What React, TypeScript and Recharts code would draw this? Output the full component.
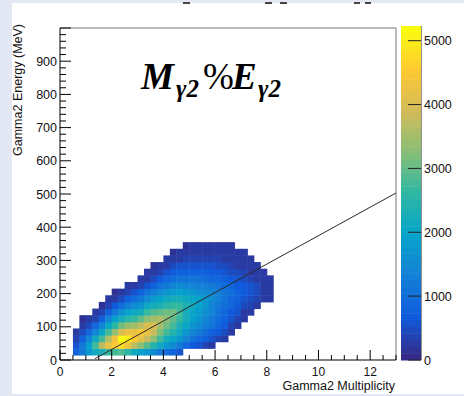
import React from 'react';
import { ScatterChart, Scatter, XAxis, YAxis, ReferenceLine } from 'recharts';

// bin centres of the 2D histogram (bins 0.25 wide in multiplicity, 20 MeV in energy)
const multBins = [
  0.625, 0.875, 1.125, 1.375, 1.625, 1.875, 2.125, 2.375, 2.625, 2.875, 3.125,
  3.375, 3.625, 3.875, 4.125, 4.375, 4.625, 4.875, 5.125, 5.375, 5.625, 5.875,
  6.125, 6.375, 6.625, 6.875, 7.125, 7.375, 7.625, 7.875, 8.125,
];
const energyBins = [25, 45, 65, 85, 105, 125, 145, 165, 185, 205, 225, 245, 265, 285, 305, 325, 345];

// counts per bin, in hundreds; one row per energy bin (bottom row first)
const countsHundreds = [
  [8, 12, 17, 21, 24, 27, 28, 29, 26, 21, 19, 17, 15, 12, 10, 8, 6, 0, 0, 0, 0, 0, 0, 0, 0, 0, 0, 0, 0, 0, 0],
  [6, 12, 19, 28, 37, 42, 46, 48, 43, 37, 33, 29, 25, 21, 17, 15, 12, 9, 7, 6, 4, 3, 0, 0, 0, 0, 0, 0, 0, 0, 0],
  [4, 8, 14, 21, 28, 36, 43, 52, 50, 45, 41, 38, 33, 28, 23, 20, 17, 14, 11, 9, 8, 6, 4, 3, 0, 0, 0, 0, 0, 0, 0],
  [3, 5, 9, 14, 20, 28, 34, 40, 42, 42, 44, 42, 38, 32, 28, 25, 21, 17, 14, 12, 10, 8, 7, 5, 3, 0, 0, 0, 0, 0, 0],
  [0, 3, 5, 9, 14, 20, 26, 31, 34, 35, 37, 40, 40, 35, 31, 28, 24, 20, 17, 15, 13, 11, 9, 7, 4, 3, 0, 0, 0, 0, 0],
  [0, 2, 3, 4, 8, 14, 19, 23, 26, 27, 30, 33, 35, 36, 33, 30, 27, 22, 19, 17, 14, 12, 10, 8, 6, 4, 3, 0, 0, 0, 0],
  [0, 0, 0, 3, 4, 8, 12, 16, 19, 21, 23, 27, 29, 30, 31, 31, 28, 23, 20, 18, 16, 14, 11, 9, 7, 6, 3, 3, 0, 0, 0],
  [0, 0, 0, 0, 2, 4, 7, 10, 13, 15, 17, 21, 23, 24, 26, 27, 27, 24, 21, 19, 17, 14, 12, 10, 9, 7, 5, 4, 3, 0, 0],
  [0, 0, 0, 0, 0, 3, 3, 5, 8, 10, 12, 15, 18, 19, 21, 23, 22, 21, 20, 19, 17, 15, 13, 11, 9, 8, 6, 5, 4, 3, 3],
  [0, 0, 0, 0, 0, 0, 2, 3, 4, 6, 8, 11, 13, 15, 17, 18, 19, 18, 17, 16, 15, 14, 13, 11, 10, 8, 7, 6, 5, 3, 3],
  [0, 0, 0, 0, 0, 0, 0, 0, 3, 3, 4, 6, 8, 11, 12, 14, 15, 14, 14, 13, 13, 12, 11, 10, 9, 7, 7, 6, 5, 3, 3],
  [0, 0, 0, 0, 0, 0, 0, 0, 0, 0, 3, 3, 5, 7, 9, 10, 11, 11, 11, 11, 10, 9, 9, 8, 7, 6, 5, 4, 3, 3, 3],
  [0, 0, 0, 0, 0, 0, 0, 0, 0, 0, 0, 3, 3, 4, 6, 7, 8, 8, 8, 8, 8, 7, 7, 6, 5, 5, 4, 3, 3, 3, 0],
  [0, 0, 0, 0, 0, 0, 0, 0, 0, 0, 0, 0, 2, 3, 3, 5, 6, 6, 6, 6, 6, 6, 5, 5, 4, 3, 3, 3, 3, 0, 0],
  [0, 0, 0, 0, 0, 0, 0, 0, 0, 0, 0, 0, 0, 0, 3, 3, 3, 4, 4, 4, 4, 4, 4, 3, 3, 3, 3, 3, 0, 0, 0],
  [0, 0, 0, 0, 0, 0, 0, 0, 0, 0, 0, 0, 0, 0, 0, 2, 3, 3, 3, 3, 3, 3, 3, 3, 3, 3, 3, 0, 0, 0, 0],
  [0, 0, 0, 0, 0, 0, 0, 0, 0, 0, 0, 0, 0, 0, 0, 0, 0, 2, 3, 3, 3, 3, 3, 3, 3, 0, 0, 0, 0, 0, 0],
];

const xTicks = [0, 0.5, 1, 1.5, 2, 2.5, 3, 3.5, 4, 4.5, 5, 5.5, 6, 6.5, 7, 7.5, 8, 8.5, 9, 9.5, 10, 10.5, 11, 11.5, 12, 12.5, 13];
const xLabels = [0, 2, 4, 6, 8, 10, 12];
const yLabels = [0, 100, 200, 300, 400, 500, 600, 700, 800, 900];
const yTicks = Array.from({ length: 51 }, (_, i) => i * 20);
const zTicks = [0, 1000, 2000, 3000, 4000, 5000];
const zMax = 5230;

// straight line drawn over the histogram
const fitX = [1.35, 13];
const fitY = [4, 503];

const FONT = "'Liberation Sans', Arial, Helvetica, sans-serif";
const PLOT_W = 336;
const PLOT_H = 332;
const CELL_W = (0.25 * PLOT_W) / 13;
const CELL_H = (20 * PLOT_H) / 1000;
const N_LEVELS = 50;

// ROOT kBird palette
const birdStops = [0, 0.125, 0.25, 0.375, 0.5, 0.625, 0.75, 0.875, 1];
const birdR = [0.2082, 0.0592, 0.078, 0.0232, 0.1802, 0.5301, 0.8186, 0.9956, 0.9764];
const birdG = [0.1664, 0.3599, 0.5041, 0.6419, 0.7178, 0.7492, 0.7328, 0.7862, 0.9832];
const birdB = [0.5293, 0.8684, 0.8385, 0.7914, 0.6425, 0.4662, 0.3499, 0.1968, 0.0539];

function bird(t: number) {
  let i = 0;
  while (i < birdStops.length - 2 && t > birdStops[i + 1]) i++;
  const f = (t - birdStops[i]) / (birdStops[i + 1] - birdStops[i]);
  const c = (a: number[]) => Math.round(255 * (a[i] + (a[i + 1] - a[i]) * f));
  return `rgb(${c(birdR)},${c(birdG)},${c(birdB)})`;
}

const levelColor = (level: number) => bird(level / (N_LEVELS - 1));
const zColor = (z: number) => levelColor(Math.min(N_LEVELS - 1, Math.floor((z / zMax) * N_LEVELS)));

const cells = energyBins.flatMap((e, r) =>
  multBins.map((m, c) => ({ m, e, z: countsHundreds[r][c] * 100 })).filter(d => d.z > 0)
);
const fitPoints = fitX.map((m, i) => ({ m, e: fitY[i] }));
const levels = Array.from({ length: N_LEVELS }, (_, i) => ({ x: 0.5, z: ((i + 0.5) * zMax) / N_LEVELS, level: i }));

const BinCell = (props: any) => {
  const { cx, cy, payload } = props;
  return (
    <rect x={cx - CELL_W / 2} y={cy - CELL_H / 2} width={CELL_W + 0.5} height={CELL_H + 0.5} fill={zColor(payload.z)} />
  );
};

const LevelRect = (props: any) => {
  const { cx, cy, payload } = props;
  const h = 334 / N_LEVELS;
  return <rect x={cx - 10} y={cy - h / 2} width={20} height={h + 0.5} fill={levelColor(payload.level)} />;
};

const NoDot = () => <g />;

const XTick = (props: any) => {
  const { x, y, payload } = props;
  const major = xLabels.includes(payload.value);
  return (
    <g>
      <line x1={x} x2={x} y1={y} y2={y - (major ? 10 : 5)} stroke="#000" />
      {major && (
        <text x={x} y={y + 15.5} textAnchor="middle" fontSize={12} fontFamily={FONT} fill="#111">
          {payload.value}
        </text>
      )}
    </g>
  );
};

const YTick = (props: any) => {
  const { x, y, payload } = props;
  const major = payload.value % 100 === 0;
  return (
    <g>
      <line x1={x} x2={x + (major ? 11 : 6)} y1={y} y2={y} stroke="#000" />
      {yLabels.includes(payload.value) && (
        <text x={x - 3} y={y + 4.5} textAnchor="end" fontSize={12.5} fontFamily={FONT} fill="#111">
          {payload.value}
        </text>
      )}
    </g>
  );
};

const ZTick = (props: any) => {
  const { x, y, payload } = props;
  return (
    <g>
      <line x1={x - 13} x2={x} y1={y} y2={y} stroke="#222" />
      <text x={x + 3} y={y + 4.5} textAnchor="start" fontSize={12.5} fontFamily={FONT} fill="#111">
        {payload.value}
      </text>
    </g>
  );
};

export default function App() {
  return (
    <div style={{ position: 'absolute', left: 0, top: 0, width: 464, height: 396, background: '#e4e8f4' }}>
      <div style={{ position: 'absolute', left: 12, top: 3, width: 452, height: 391, background: '#fff' }} />

      <div style={{ position: 'absolute', left: 0, top: 0 }}>
        <ScatterChart width={464} height={396} margin={{ top: 28, right: 68, bottom: 6, left: 12 }}>
          <XAxis
            type="number"
            dataKey="m"
            domain={[0, 13]}
            ticks={xTicks}
            interval={0}
            height={30}
            tickSize={0}
            tickMargin={0}
            tick={XTick}
            axisLine={{ stroke: '#000' }}
            tickLine={false}
          />
          <YAxis
            type="number"
            dataKey="e"
            domain={[0, 1000]}
            ticks={yTicks}
            interval={0}
            width={48}
            tickSize={0}
            tickMargin={0}
            tick={YTick}
            axisLine={{ stroke: '#000' }}
            tickLine={false}
          />
          <ReferenceLine y={1000} stroke="#777" />
          <ReferenceLine x={13} stroke="#777" />
          <Scatter data={cells} shape={BinCell} isAnimationActive={false} />
          <Scatter
            data={fitPoints}
            line={{ stroke: '#2a2a2a', strokeWidth: 1 }}
            lineType="joint"
            shape={NoDot}
            isAnimationActive={false}
          />
        </ScatterChart>
      </div>

      <div style={{ position: 'absolute', left: 401, top: 0 }}>
        <ScatterChart width={63} height={396} margin={{ top: 26, right: 0, bottom: 36, left: 0 }}>
          <XAxis type="number" dataKey="x" domain={[0, 1]} hide />
          <YAxis
            type="number"
            dataKey="z"
            orientation="right"
            domain={[0, zMax]}
            ticks={zTicks}
            interval={0}
            width={43}
            tickSize={0}
            tickMargin={0}
            tick={ZTick}
            axisLine={{ stroke: '#222' }}
            tickLine={false}
          />
          <Scatter data={levels} shape={LevelRect} isAnimationActive={false} />
        </ScatterChart>
      </div>

      <svg width={464} height={396} style={{ position: 'absolute', left: 0, top: 0, pointerEvents: 'none' }}>
        <g fill="#444">
          <rect x={183} y={2} width={7} height={2} />
          <rect x={265} y={2} width={7} height={2} />
          <rect x={280} y={2} width={7} height={2} />
          <rect x={354} y={2} width={6} height={2} />
          <rect x={365} y={2} width={6} height={2} />
        </g>
        <text
          transform="translate(22, 24) rotate(-90)"
          textAnchor="end"
          fontSize={12.5}
          fontFamily={FONT}
          fill="#111"
        >
          Gamma2 Energy (MeV)
        </text>
        <text x={395} y={390} textAnchor="end" fontSize={12.5} fontFamily={FONT} fill="#111">
          Gamma2 Multiplicity
        </text>
        <text
          x={141}
          y={89}
          fontFamily="'Liberation Serif', 'DejaVu Serif', serif"
          fontSize={37}
          fontWeight="bold"
          fontStyle="italic"
          fill="#000"
        >
          M
          <tspan x={176} dy={8} fontSize={25}>
            γ2
          </tspan>
          <tspan x={203} dy={-8} fontWeight="normal" fontStyle="normal">
            %
          </tspan>
          <tspan x={232}>E</tspan>
          <tspan x={258} dy={8} fontSize={25}>
            γ2
          </tspan>
        </text>
      </svg>
    </div>
  );
}
